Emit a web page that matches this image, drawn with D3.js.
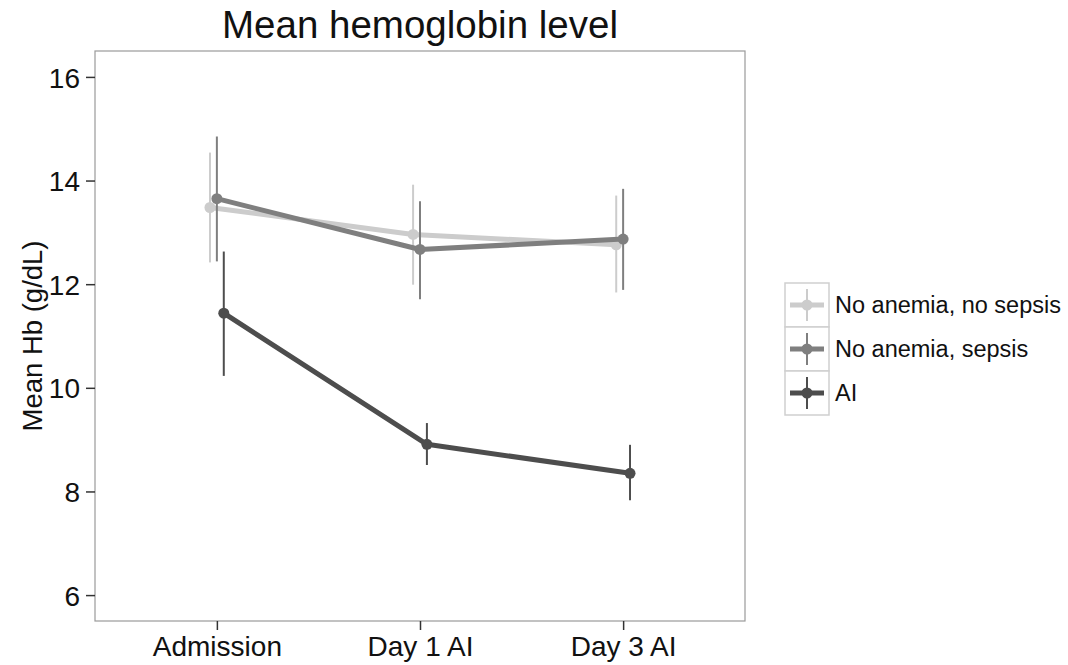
<!DOCTYPE html>
<html>
<head>
<meta charset="utf-8">
<script src="https://cdn.jsdelivr.net/npm/d3@7"></script>
<style>
  body { margin: 0; background: #fff; }
  text { font-family: "Liberation Sans", Arial, sans-serif; }
</style>
</head>
<body>
<div id="chart"></div>
<script>
const timepoints = ["Admission", "Day 1 AI", "Day 3 AI"];
const groups = ["No anemia, no sepsis", "No anemia, sepsis", "AI"];
const groupColors = ["#cccccc", "#7f7f7f", "#4d4d4d"];

const meanNoAnemiaNoSepsis = [13.48, 12.96, 12.76];
const lowNoAnemiaNoSepsis = [12.42, 11.99, 11.84];
const highNoAnemiaNoSepsis = [14.54, 13.92, 13.71];

const meanNoAnemiaSepsis = [13.65, 12.67, 12.87];
const lowNoAnemiaSepsis = [12.44, 11.71, 11.89];
const highNoAnemiaSepsis = [14.85, 13.60, 13.84];

const meanAI = [11.44, 8.91, 8.35];
const lowAI = [10.23, 8.51, 7.83];
const highAI = [12.63, 9.32, 8.90];

const yTicks = [6, 8, 10, 12, 14, 16];

const series = [
  { name: groups[0], color: groupColors[0], mean: meanNoAnemiaNoSepsis, low: lowNoAnemiaNoSepsis, high: highNoAnemiaNoSepsis },
  { name: groups[1], color: groupColors[1], mean: meanNoAnemiaSepsis, low: lowNoAnemiaSepsis, high: highNoAnemiaSepsis },
  { name: groups[2], color: groupColors[2], mean: meanAI, low: lowAI, high: highAI }
];

const W = 1068, H = 665;
const panel = { left: 95, right: 745, top: 51, bottom: 621 };

const svg = d3.select("#chart").append("svg")
  .attr("width", W)
  .attr("height", H);

const x = d3.scalePoint()
  .domain(timepoints)
  .range([panel.left, panel.right])
  .padding(0.6);

const y = d3.scaleLinear()
  .domain([5.5, 16.5])
  .range([panel.bottom, panel.top]);

const dodge = x.step() * 0.034;

// panel border
svg.append("rect")
  .attr("x", panel.left)
  .attr("y", panel.top)
  .attr("width", panel.right - panel.left)
  .attr("height", panel.bottom - panel.top)
  .attr("fill", "white")
  .attr("stroke", "#9a9a9a")
  .attr("stroke-width", 1.2);

// axes
const yAxis = svg.append("g")
  .attr("transform", `translate(${panel.left},0)`)
  .call(d3.axisLeft(y).tickValues(yTicks).tickSize(9).tickPadding(6));
yAxis.select(".domain").remove();
yAxis.selectAll("line").attr("stroke", "#333").attr("stroke-width", 1.5);
yAxis.selectAll("text")
  .attr("fill", "#111")
  .style("font-size", "28px")
  .attr("dy", "0.36em");

const xAxis = svg.append("g")
  .attr("transform", `translate(0,${panel.bottom})`)
  .call(d3.axisBottom(x).tickSize(9).tickPadding(5));
xAxis.select(".domain").remove();
xAxis.selectAll("line").attr("stroke", "#333").attr("stroke-width", 1.5);
xAxis.selectAll("text")
  .attr("fill", "#111")
  .style("font-size", "28px")
  .attr("dy", "0.74em");

// titles
svg.append("text")
  .attr("x", (panel.left + panel.right) / 2)
  .attr("y", 38)
  .attr("text-anchor", "middle")
  .attr("fill", "#111")
  .style("font-size", "38.5px")
  .text("Mean hemoglobin level");

svg.append("text")
  .attr("transform", `translate(42,${(panel.top + panel.bottom) / 2}) rotate(-90)`)
  .attr("text-anchor", "middle")
  .attr("fill", "#111")
  .style("font-size", "27.5px")
  .text("Mean Hb (g/dL)");

// series
const line = d3.line()
  .x(d => d.x)
  .y(d => d.y);

series.forEach((s, si) => {
  const off = (si - 1) * dodge;
  const pts = timepoints.map((t, i) => ({
    x: x(t) + off,
    y: y(s.mean[i]),
    lo: y(s.low[i]),
    hi: y(s.high[i])
  }));
  const g = svg.append("g");
  g.append("path")
    .attr("d", line(pts))
    .attr("fill", "none")
    .attr("stroke", s.color)
    .attr("stroke-width", 5)
    .attr("stroke-linejoin", "round");
  g.selectAll("line.err")
    .data(pts)
    .enter()
    .append("line")
    .attr("class", "err")
    .attr("x1", d => d.x)
    .attr("x2", d => d.x)
    .attr("y1", d => d.lo)
    .attr("y2", d => d.hi)
    .attr("stroke", s.color)
    .attr("stroke-width", 2);
  g.selectAll("circle")
    .data(pts)
    .enter()
    .append("circle")
    .attr("cx", d => d.x)
    .attr("cy", d => d.y)
    .attr("r", 5.5)
    .attr("fill", s.color);
});

// legend
const legend = svg.append("g").attr("transform", "translate(785,283)");
const keySize = 44;
series.forEach((s, i) => {
  const k = legend.append("g").attr("transform", `translate(0,${i * keySize})`);
  k.append("rect")
    .attr("width", keySize)
    .attr("height", keySize)
    .attr("fill", "white")
    .attr("stroke", "#cfcfcf")
    .attr("stroke-width", 1.5);
  k.append("line")
    .attr("x1", 5).attr("x2", keySize - 5)
    .attr("y1", keySize / 2).attr("y2", keySize / 2)
    .attr("stroke", s.color).attr("stroke-width", 5);
  k.append("line")
    .attr("x1", keySize / 2).attr("x2", keySize / 2)
    .attr("y1", 6).attr("y2", keySize - 6)
    .attr("stroke", s.color).attr("stroke-width", 2);
  k.append("circle")
    .attr("cx", keySize / 2).attr("cy", keySize / 2)
    .attr("r", 5.5).attr("fill", s.color);
  k.append("text")
    .attr("x", keySize + 6)
    .attr("y", keySize / 2)
    .attr("dy", "0.36em")
    .attr("fill", "#111")
    .style("font-size", "23.5px")
    .text(s.name);
});
</script>
</body>
</html>
